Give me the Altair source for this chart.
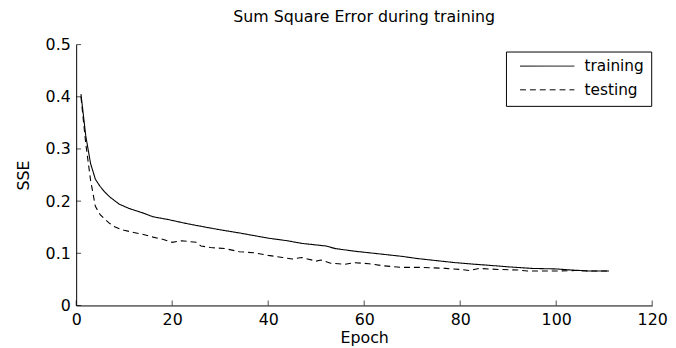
import altair as alt
import pandas as pd

# ---- data ----
TRAIN_EPOCH = [1, 2, 3, 4, 5, 6, 7, 8, 9, 10, 11, 12, 13, 14, 16, 19, 23, 27, 30, 34, 37, 40,
               44, 47, 50, 52, 54, 58, 62, 68, 71, 75, 79, 83, 86, 90, 95, 100, 103, 107, 111]
TRAIN_SSE = [0.405, 0.325, 0.272, 0.242, 0.228, 0.217, 0.208, 0.201, 0.194, 0.190, 0.186,
             0.183, 0.180, 0.177, 0.170, 0.165, 0.157, 0.150, 0.145, 0.139, 0.134, 0.129,
             0.124, 0.119, 0.116, 0.114, 0.109, 0.104, 0.100, 0.094, 0.090, 0.086, 0.082,
             0.079, 0.077, 0.074, 0.071, 0.070, 0.068, 0.066, 0.066]

TEST_EPOCH = [1, 2, 3, 4, 5, 6, 7, 8, 9, 10, 12, 14, 16, 18, 20, 22, 25, 26, 28, 31, 34, 37,
              40, 43, 45, 47, 50, 51, 53, 56, 58, 61, 64, 68, 72, 77, 80, 82, 84, 88, 92, 94,
              100, 104, 107, 111]
TEST_SSE = [0.400, 0.310, 0.240, 0.190, 0.174, 0.165, 0.157, 0.151, 0.147, 0.144, 0.140,
            0.136, 0.131, 0.127, 0.121, 0.124, 0.121, 0.114, 0.111, 0.109, 0.103, 0.101,
            0.096, 0.092, 0.089, 0.092, 0.085, 0.087, 0.081, 0.079, 0.082, 0.080, 0.076,
            0.073, 0.073, 0.071, 0.069, 0.067, 0.071, 0.069, 0.068, 0.066, 0.066, 0.067,
            0.066, 0.066]

SERIES = ["training", "testing"]
X_TICKS = [0, 20, 40, 60, 80, 100, 120]
Y_TICKS = [0, 0.1, 0.2, 0.3, 0.4, 0.5]

TITLE = "Sum Square Error during training"
X_TITLE = "Epoch"
Y_TITLE = "SSE"

FONT = "DejaVu Sans"

df = pd.concat([
    pd.DataFrame({"epoch": TRAIN_EPOCH, "sse": TRAIN_SSE, "series": SERIES[0]}),
    pd.DataFrame({"epoch": TEST_EPOCH, "sse": TEST_SSE, "series": SERIES[1]}),
])

x_scale = alt.Scale(domain=[0, 120], nice=False, zero=False)
y_scale = alt.Scale(domain=[0, 0.5], nice=False)
x_axis = alt.Axis(values=X_TICKS, title=X_TITLE, format="d", labelFlush=False, titlePadding=2)
y_axis = alt.Axis(values=Y_TICKS, title=Y_TITLE, format="~g", labelFlush=False, titlePadding=14)

lines = alt.Chart(df).mark_line(strokeWidth=1.1, color="black").encode(
    x=alt.X("epoch:Q", scale=x_scale, axis=x_axis, title=X_TITLE),
    y=alt.Y("sse:Q", scale=y_scale, axis=y_axis, title=Y_TITLE),
    strokeDash=alt.StrokeDash(
        "series:N",
        scale=alt.Scale(domain=SERIES, range=[[1, 0], [6, 4]]),
        legend=alt.Legend(
            title=None, orient="none", legendX=435, legendY=7,
            strokeColor="black", fillColor="white", padding=7,
            symbolType="M-5,0H5", symbolSize=121, symbolStrokeWidth=1,
            symbolStrokeColor="black", symbolFillColor="transparent",
            symbolOffset=27, labelOffset=30,
            labelFont=FONT, labelFontSize=15.5, labelColor="black",
            rowPadding=7,
        ),
    ),
)

xticks = alt.Chart(pd.DataFrame({"v": X_TICKS})).mark_tick(
    orient="vertical", size=5, thickness=1, yOffset=-2.5, color="black"
).encode(x=alt.X("v:Q", scale=x_scale, axis=x_axis, title=X_TITLE),
         y=alt.datum(0))

yticks = alt.Chart(pd.DataFrame({"v": Y_TICKS})).mark_tick(
    orient="horizontal", size=5, thickness=1, xOffset=2.5, color="black"
).encode(y=alt.Y("v:Q", scale=y_scale, axis=y_axis, title=Y_TITLE),
         x=alt.datum(0))

chart = alt.layer(lines, xticks, yticks).properties(
    width=583, height=264,
    title=alt.TitleParams(TITLE, anchor="middle", offset=12),
    autosize=alt.AutoSizeParams(type="none"),
    padding={"left": 69, "top": 35, "right": 16, "bottom": 41},
).configure_view(stroke=None).configure_axis(
    domainColor="black", domainWidth=1, grid=False, ticks=False,
    labelFont=FONT, labelFontSize=16, labelColor="black", labelPadding=6,
    titleFont=FONT, titleFontSize=16, titleFontWeight="normal", titleColor="black",
).configure_title(font=FONT, fontSize=16, fontWeight="normal", color="black")

chart.save("out.html", embed_options={"renderer": "svg", "actions": False})
